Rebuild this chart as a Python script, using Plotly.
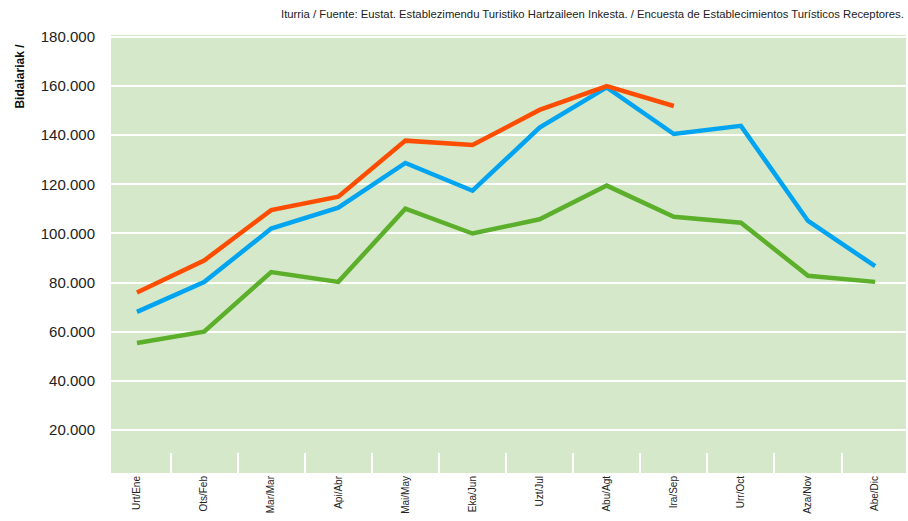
import plotly.graph_objects as go

# Month labels (Basque / Spanish)
months = ["Urt/Ene", "Ots/Feb", "Mar/Mar", "Api/Abr", "Mai/May", "Eka/Jun",
          "Uzt/Jul", "Abu/Agt", "Ira/Sep", "Urr/Oct", "Aza/Nov", "Abe/Dic"]

# Series (travellers per month)
serie_red = [76000, 89000, 109500, 115000, 137800, 136000,
             150300, 160000, 151900]
serie_blue = [68100, 80200, 102000, 110500, 128700, 117400,
              143100, 159500, 140500, 143800, 105100, 86700]
serie_green = [55400, 60000, 84300, 80300, 110100, 100000,
               105800, 119500, 106800, 104400, 82800, 80300]

y_ticks = [20000, 40000, 60000, 80000, 100000, 120000, 140000, 160000, 180000]
y_ticktext = ["20.000", "40.000", "60.000", "80.000", "100.000",
              "120.000", "140.000", "160.000", "180.000"]

x_idx = list(range(len(months)))

fig = go.Figure()

for vals, color in [(serie_green, "#5BAF2B"),
                    (serie_blue, "#00A4F0"),
                    (serie_red, "#FF4D00")]:
    fig.add_trace(go.Scatter(
        x=x_idx[:len(vals)],
        y=vals,
        mode="lines",
        line=dict(color=color, width=4.5),
        hoverinfo="skip",
        showlegend=False
    ))

base_font = "Liberation Sans, Arial, sans-serif"

fig.update_layout(
    width=908,
    height=521,
    margin=dict(l=111, r=2, t=35, b=48),
    paper_bgcolor="white",
    plot_bgcolor="#D5E8C9",
    font=dict(family=base_font, color="#222222"),
    showlegend=False
)

fig.update_xaxes(
    range=[-0.387, 11.46],
    tickmode="array",
    tickvals=x_idx,
    ticktext=months,
    tickangle=-90,
    tickfont=dict(size=10, color="#222222"),
    showgrid=False,
    zeroline=False,
    ticks="",
    minor=dict(
        tickmode="array",
        tickvals=[i + 0.5 for i in range(len(months) - 1)],
        ticks="inside",
        ticklen=20,
        tickwidth=2,
        tickcolor="white",
        showgrid=False
    )
)

fig.update_yaxes(
    range=[2500, 180800],
    tickmode="array",
    tickvals=y_ticks,
    ticktext=y_ticktext,
    tickfont=dict(size=15, color="#222222"),
    showgrid=True,
    gridcolor="white",
    gridwidth=2,
    zeroline=False,
    ticks="",
    ticklabelstandoff=15
)

# y-axis title
fig.add_annotation(
    text="<b>Bidaiariak /</b>",
    xref="paper", yref="paper",
    x=-0.114, y=0.906,
    xanchor="center", yanchor="middle",
    textangle=-90,
    showarrow=False,
    font=dict(size=12, color="#111111")
)

# source note
fig.add_annotation(
    text="Iturria / Fuente: Eustat. Establezimendu Turistiko Hartzaileen Inkesta. / "
         "Encuesta de Establecimientos Turísticos Receptores.",
    xref="paper", yref="paper",
    x=1.0, y=1.048,
    xanchor="right", yanchor="middle",
    showarrow=False,
    font=dict(size=11.3, color="#222222")
)

# the page body has a default margin; remove it so the figure sits at 0,0
fig.write_html(
    "out.html",
    config={"displayModeBar": False},
    post_script="document.body.style.margin='0';"
)
